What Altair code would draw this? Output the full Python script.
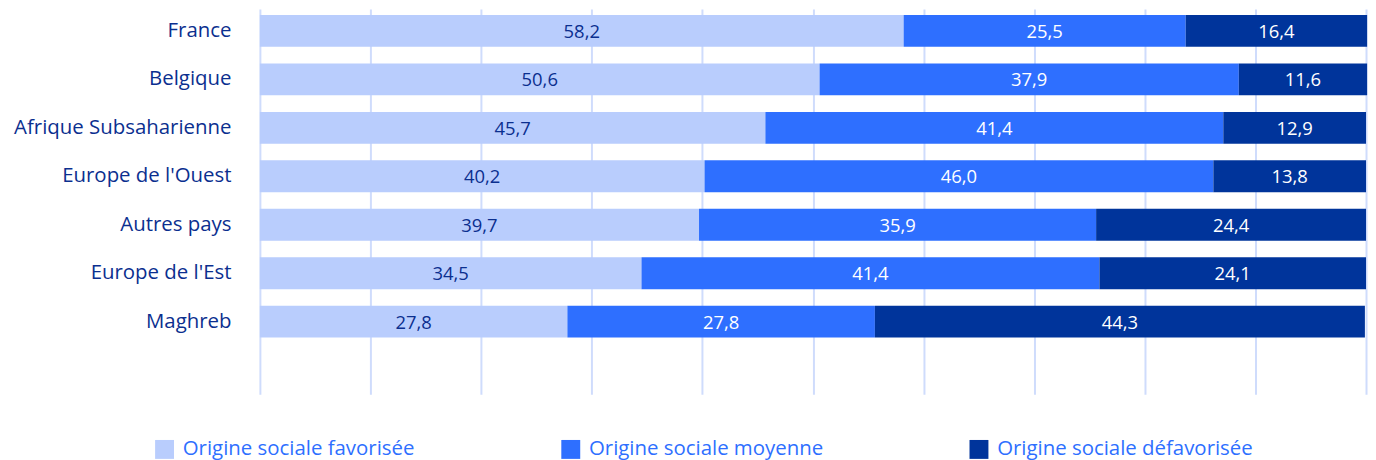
import altair as alt
import pandas as pd

pays = ["France", "Belgique", "Afrique Subsaharienne", "Europe de l'Ouest",
        "Autres pays", "Europe de l'Est", "Maghreb"]
series = ["Origine sociale favorisée", "Origine sociale moyenne", "Origine sociale défavorisée"]
favorisee = [58.2, 50.6, 45.7, 40.2, 39.7, 34.5, 27.8]
moyenne = [25.5, 37.9, 41.4, 46.0, 35.9, 41.4, 27.8]
defavorisee = [16.4, 11.6, 12.9, 13.8, 24.4, 24.1, 44.3]
colors = ["#b9cdfd", "#2e6fff", "#00349b"]

rows = []
for i, p in enumerate(pays):
    for j, vals in enumerate([favorisee, moyenne, defavorisee]):
        v = vals[i]
        rows.append({"pays": p, "serie": series[j], "ordre": j, "valeur": v,
                     "label": f"{v:.1f}".replace(".", ",")})
df = pd.DataFrame(rows)

FONT = "Open Sans"
ydomain = pays + [" "]

base = alt.Chart(df).transform_stack(
    stack="valeur", groupby=["pays"], as_=["x0", "x1"],
    sort=[alt.SortField("ordre", order="ascending")]
).transform_calculate(mid="(datum.x0 + datum.x1) / 2")

yscale = alt.Scale(domain=ydomain, paddingInner=0.342, paddingOuter=0.147, align=0.42)

yenc = alt.Y("pays:N", scale=yscale,
             axis=alt.Axis(title=None, domain=False, ticks=False, grid=False,
                           labelFont=FONT, labelFontSize=20.5, labelColor="#0b2f8f",
                           labelPadding=29, minExtent=253, maxExtent=253, labelLimit=300))

bars = base.mark_bar(stroke=None).encode(
    x=alt.X("x0:Q", scale=alt.Scale(domain=[0, 100], nice=False),
            axis=alt.Axis(title=None, labels=False, ticks=False, domain=False, grid=True,
                          values=list(range(0, 101, 10)), gridColor="#cfdcfc", gridWidth=2)),
    x2="x1:Q",
    y=yenc,
    color=alt.Color("serie:N", scale=alt.Scale(domain=series, range=colors),
                    legend=alt.Legend(title=None, orient="none", legendX=-106, legendY=432,
                                      direction="horizontal", columns=3, columnPadding=146,
                                      symbolType="square", symbolSize=361, symbolStrokeWidth=0,
                                      symbolOpacity=1,
                                      labelFont=FONT, labelFontSize=20.5, labelColor="#2e6fff",
                                      labelOffset=8, labelLimit=400)),
)

text = base.mark_text(font=FONT, fontSize=18.5, baseline="middle", dy=1).encode(
    x="mid:Q",
    y=alt.Y("pays:N", scale=yscale),
    text="label:N",
    color=alt.condition(alt.datum.ordre == 0, alt.value("#0b2f8f"), alt.value("#ffffff")),
)

chart = alt.layer(bars, text).properties(
    width=1111, height=387,
    padding={"top": 0, "left": 0, "right": 0, "bottom": 0},
).configure_view(stroke=None).configure_axis(gridOpacity=1)

chart.save("out.html", embed_options={"renderer": "svg", "actions": False})
